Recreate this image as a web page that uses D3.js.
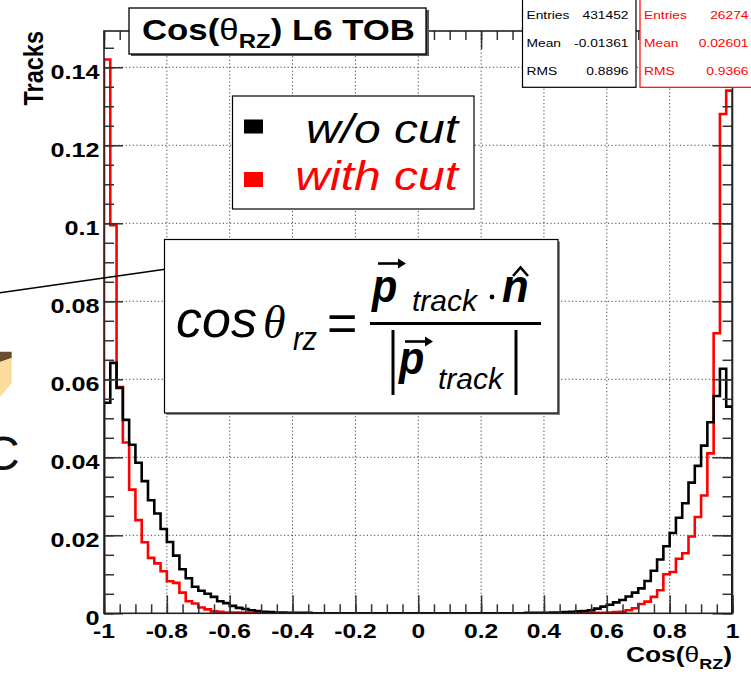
<!DOCTYPE html>
<html>
<head>
<meta charset="utf-8">
<script src="https://cdn.jsdelivr.net/npm/d3@7"></script>
<style>
  html, body { margin: 0; padding: 0; background: #fff; }
  svg { display: block; font-family: "Liberation Sans", Arial, Helvetica, sans-serif; }
</style>
</head>
<body>
<div id="chart"></div>
<script>
// 100 bins of width 0.02 from -1 to 1 (normalised track counts)
const woCut = [
  0.0540, 0.0642, 0.0578, 0.0496, 0.0432, 0.0386, 0.0339, 0.0290, 0.0256, 0.0216,
  0.0183, 0.0148, 0.0113, 0.0090, 0.0068, 0.0058, 0.0050, 0.0042, 0.0031, 0.0026,
  0.0019, 0.0014, 0.0011, 0.0008, 0.0006, 0.0004, 0.0003, 0.0002, 0.0002, 0.0001,
  0.0001, 0.0001, 0.0001, 0, 0, 0, 0, 0, 0, 0,
  0, 0, 0, 0, 0, 0, 0, 0, 0, 0,
  0, 0, 0, 0, 0, 0, 0, 0, 0, 0,
  0, 0, 0, 0, 0, 0, 0, 0.0001, 0.0001, 0.0001,
  0.0001, 0.0002, 0.0002, 0.0003, 0.0004, 0.0005, 0.0006, 0.0008, 0.0012, 0.0017,
  0.0022, 0.0028, 0.0034, 0.0043, 0.0053, 0.0064, 0.0083, 0.0109, 0.0138, 0.0172,
  0.0206, 0.0245, 0.0282, 0.0335, 0.0378, 0.0430, 0.0490, 0.0557, 0.0627, 0.0530
];
const withCut = [
  0.1420, 0.0995, 0.0580, 0.0438, 0.0317, 0.0239, 0.0182, 0.0142, 0.0128, 0.0108,
  0.0082, 0.0078, 0.0053, 0.0031, 0.0025, 0.0015, 0.0010, 0.0005, 0.0004, 0.0002,
  0.0002, 0.0002, 0.0001, 0.0001, 0, 0, 0, 0, 0, 0,
  0, 0, 0, 0, 0, 0, 0, 0, 0, 0,
  0, 0, 0, 0, 0, 0, 0, 0, 0, 0,
  0, 0, 0, 0, 0, 0, 0, 0, 0, 0,
  0, 0, 0, 0, 0, 0, 0, 0, 0, 0,
  0, 0, 0, 0, 0, 0, 0.0001, 0.0001, 0.0001, 0.0001,
  0.0002, 0.0003, 0.0004, 0.0008, 0.0013, 0.0024, 0.0030, 0.0042, 0.0059, 0.0100,
  0.0106, 0.0140, 0.0154, 0.0197, 0.0247, 0.0302, 0.0410, 0.0718, 0.1280, 0.1340
];

const xTicks = [-1, -0.8, -0.6, -0.4, -0.2, 0, 0.2, 0.4, 0.6, 0.8, 1];
const xTickLabels = ['-1', '-0.8', '-0.6', '-0.4', '-0.2', '0', '0.2', '0.4', '0.6', '0.8', '1'];
const yTicks = [0, 0.02, 0.04, 0.06, 0.08, 0.1, 0.12, 0.14];
const yTickLabels = ['0', '0.02', '0.04', '0.06', '0.08', '0.1', '0.12', '0.14'];

const statNames = ['Entries', 'Mean', 'RMS'];
const woCutStats = ['431452', '-0.01361', '0.8896'];
const withCutStats = ['26274', '0.02601', '0.9366'];
const legendLabels = ['w/o cut', 'with cut'];

// Layout
const width = 751, height = 674;
const frame = { left: 104, right: 732.5, top: 31, bottom: 613.3 };
const SX = 1.2; // the picture is stretched sideways, so is the text

const svg = d3.select('#chart').append('svg')
    .attr('width', width)
    .attr('height', height);

svg.append('rect').attr('width', width).attr('height', height).attr('fill', '#fff');

const x = d3.scaleLinear().domain([-1, 1]).range([frame.left, frame.right]);
const y = d3.scaleLinear().domain([0, 0.1493]).range([frame.bottom, frame.top]);

// text helper: stretched text at (px,py)
function txt(parent, px, py, size, opts = {}) {
  return parent.append('text')
    .attr('transform', `translate(${px},${py}) scale(${opts.sx || SX},1)`)
    .attr('text-anchor', opts.anchor || 'start')
    .attr('font-size', size)
    .attr('font-weight', opts.weight || 'normal')
    .attr('font-style', opts.style || 'normal')
    .attr('font-family', opts.family || null)
    .attr('fill', opts.fill || '#000');
}

// Grid
const grid = svg.append('g')
    .attr('stroke', '#444')
    .attr('stroke-width', 1)
    .attr('stroke-dasharray', '1.2,2.4');
grid.selectAll('.gx')
  .data(xTicks.slice(1, -1))
  .enter().append('line')
    .attr('x1', d => x(d)).attr('x2', d => x(d))
    .attr('y1', frame.top).attr('y2', frame.bottom);
grid.selectAll('.gy')
  .data(yTicks.slice(1))
  .enter().append('line')
    .attr('x1', frame.left).attr('x2', frame.right)
    .attr('y1', d => y(d)).attr('y2', d => y(d));

// Histograms
const edges = d3.range(100).map(i => -1 + i * 0.02);
const stepLine = d3.line()
    .x(d => x(d[0]))
    .y(d => y(d[1]))
    .curve(d3.curveStepAfter);

function histPoints(vals) {
  return [[-1, 0]].concat(vals.map((v, i) => [edges[i], v]), [[1, vals[vals.length - 1]], [1, 0]]);
}

svg.append('defs').append('clipPath').attr('id', 'frameClip')
  .append('rect')
    .attr('x', frame.left).attr('y', frame.top)
    .attr('width', frame.right - frame.left).attr('height', frame.bottom - frame.top);

const hists = svg.append('g').attr('clip-path', 'url(#frameClip)');
hists.append('path')
    .attr('d', stepLine(histPoints(withCut)))
    .attr('fill', 'none')
    .attr('stroke', '#ff0000')
    .attr('stroke-width', 2.6);
hists.append('path')
    .attr('d', stepLine(histPoints(woCut)))
    .attr('fill', 'none')
    .attr('stroke', '#000')
    .attr('stroke-width', 2.6);

// Axes ticks (inward, on all four sides)
const xMinor = d3.range(-1, 1.0001, 0.05);
const yMinor = d3.range(0, 0.1451, 0.005);
function tickStyle(g) {
  g.select('.domain').remove();
  g.selectAll('line').attr('stroke', '#333').attr('stroke-width', 1.5);
}
svg.append('g').attr('transform', `translate(0,${frame.bottom})`)
  .call(d3.axisBottom(x).tickValues(xMinor).tickSize(-9).tickFormat('')).call(tickStyle);
svg.append('g').attr('transform', `translate(0,${frame.bottom})`)
  .call(d3.axisBottom(x).tickValues(xTicks).tickSize(-18).tickFormat('')).call(tickStyle);
svg.append('g').attr('transform', `translate(0,${frame.top})`)
  .call(d3.axisTop(x).tickValues(xMinor).tickSize(-9).tickFormat('')).call(tickStyle);
svg.append('g').attr('transform', `translate(0,${frame.top})`)
  .call(d3.axisTop(x).tickValues(xTicks).tickSize(-18).tickFormat('')).call(tickStyle);
svg.append('g').attr('transform', `translate(${frame.left},0)`)
  .call(d3.axisLeft(y).tickValues(yMinor).tickSize(-10).tickFormat('')).call(tickStyle);
svg.append('g').attr('transform', `translate(${frame.left},0)`)
  .call(d3.axisLeft(y).tickValues(yTicks).tickSize(-19).tickFormat('')).call(tickStyle);
svg.append('g').attr('transform', `translate(${frame.right},0)`)
  .call(d3.axisRight(y).tickValues(yMinor).tickSize(-10).tickFormat('')).call(tickStyle);
svg.append('g').attr('transform', `translate(${frame.right},0)`)
  .call(d3.axisRight(y).tickValues(yTicks).tickSize(-20).tickFormat('')).call(tickStyle);

// Frame
svg.append('rect')
    .attr('x', frame.left).attr('y', frame.top)
    .attr('width', frame.right - frame.left).attr('height', frame.bottom - frame.top)
    .attr('fill', 'none').attr('stroke', '#222').attr('stroke-width', 1.6);

// Tick labels
xTicks.forEach((t, i) => {
  txt(svg, x(t), 638, 20.5, { anchor: 'middle', weight: 'bold' }).text(xTickLabels[i]);
});
yTicks.forEach((t, i) => {
  txt(svg, 99.5, y(t) + 11.5, 21, { anchor: 'end', weight: 'bold' }).text(yTickLabels[i]);
});

// Axis titles
svg.append('text')
    .attr('transform', `translate(43,31) scale(${SX},1) rotate(-90)`)
    .attr('text-anchor', 'end')
    .attr('font-size', 23.5)
    .attr('font-weight', 'bold')
    .text('Tracks');
const xt = txt(svg, 732, 662, 22, { anchor: 'end', weight: 'bold' });
xt.append('tspan').text('Cos(');
xt.append('tspan').attr('font-weight', 'normal').text('θ');
xt.append('tspan').attr('font-size', 15).attr('dy', 7).text('RZ');
xt.append('tspan').attr('dy', -7).text(')');

// Legend
const leg = svg.append('g');
leg.append('rect')
    .attr('x', 232.5).attr('y', 96).attr('width', 241.5).attr('height', 113)
    .attr('fill', '#fff').attr('stroke', '#000').attr('stroke-width', 1.2);
[['#000', 119.5, 14], ['#ff0000', 172, 15]].forEach(([c, yy, h], i) => {
  leg.append('rect').attr('x', 244).attr('y', yy).attr('width', 19).attr('height', h).attr('fill', c);
  txt(leg, 458, i === 0 ? 142.5 : 190, 40, { anchor: 'end', style: 'italic', fill: c }).text(legendLabels[i]);
});

// Stray line from the slide
svg.append('line')
    .attr('x1', 0).attr('y1', 292.7).attr('x2', 165).attr('y2', 269.3)
    .attr('stroke', '#000').attr('stroke-width', 1.6);

// Formula box
const fb = svg.append('g');
fb.append('rect').attr('x', 166).attr('y', 241.5).attr('width', 394).attr('height', 173.5).attr('fill', '#888');
fb.append('rect')
    .attr('x', 164.5).attr('y', 239.5).attr('width', 393.5).attr('height', 173.5)
    .attr('fill', '#fff').attr('stroke', '#000').attr('stroke-width', 1.2);
txt(fb, 176, 337, 52, { style: 'italic', sx: 1 }).text('cos');
txt(fb, 263, 338, 46, { style: 'italic', sx: 1, family: '"Liberation Serif", "DejaVu Serif", serif' }).text('θ');
txt(fb, 293, 350, 34, { style: 'italic', sx: 0.85 }).text('rz');
txt(fb, 327, 341, 52, { sx: 1 }).text('=');
fb.append('line').attr('x1', 370).attr('x2', 541).attr('y1', 323.5).attr('y2', 323.5)
    .attr('stroke', '#000').attr('stroke-width', 3);
function arrow(g, x1, x2, yy) {
  g.append('line').attr('x1', x1).attr('x2', x2 - 4).attr('y1', yy).attr('y2', yy)
    .attr('stroke', '#000').attr('stroke-width', 2.6);
  g.append('path').attr('d', `M${x2},${yy} L${x2 - 8},${yy - 5} L${x2 - 8},${yy + 5} Z`).attr('fill', '#000');
}
txt(fb, 372, 302, 46, { style: 'italic', weight: 'bold', sx: 0.9 }).text('p');
arrow(fb, 378, 406, 263.5);
txt(fb, 412, 311, 30, { style: 'italic', sx: 1 }).text('track');
fb.append('circle').attr('cx', 492).attr('cy', 297).attr('r', 2.4).attr('fill', '#000');
txt(fb, 502, 302, 46, { style: 'italic', weight: 'bold', sx: 0.95 }).text('n');
fb.append('path').attr('d', 'M513,276 L520.5,267.5 L528,276')
    .attr('fill', 'none').attr('stroke', '#000').attr('stroke-width', 2.6);
[393, 516].forEach(bx => {
  fb.append('line').attr('x1', bx).attr('x2', bx).attr('y1', 330).attr('y2', 395)
    .attr('stroke', '#000').attr('stroke-width', 3);
});
txt(fb, 399, 374, 46, { style: 'italic', weight: 'bold', sx: 0.9 }).text('p');
arrow(fb, 405, 433, 341.5);
txt(fb, 438, 389, 30, { style: 'italic', sx: 1 }).text('track');

// Title box
const tb = svg.append('g');
tb.append('rect').attr('x', 131).attr('y', 10).attr('width', 298).attr('height', 46).attr('fill', '#555');
tb.append('rect')
    .attr('x', 129).attr('y', 8).attr('width', 297).attr('height', 46)
    .attr('fill', '#fff').attr('stroke', '#000').attr('stroke-width', 1.3);
const tt = txt(tb, 142, 40, 29, { weight: 'bold' });
tt.append('tspan').text('Cos(');
tt.append('tspan').attr('font-weight', 'normal').text('θ');
tt.append('tspan').attr('font-size', 20).attr('dy', 8).text('RZ');
tt.append('tspan').attr('dy', -8).text(') L6 TOB');

// Stats boxes
function statsBox(bx, bw, color, vals, vx) {
  const g = svg.append('g');
  g.append('rect').attr('x', bx).attr('y', -2).attr('width', bw).attr('height', 89.3)
    .attr('fill', '#fff').attr('stroke', color).attr('stroke-width', 1.2);
  statNames.forEach((n, i) => {
    const yy = 18.5 + i * 28.3;
    txt(g, bx + 4, yy, 11.5, { fill: color }).text(n);
    txt(g, vx, yy, 11.5, { anchor: 'end', fill: color }).text(vals[i]);
  });
}
statsBox(522.5, 113.5, '#000', woCutStats, 628.5);
statsBox(640, 120, '#ff0000', withCutStats, 748.5);

// Fragments of the slide on the left edge
svg.append('path').attr('d', 'M0,351.7 L11.7,351.7 L11.7,358 L0,362 Z').attr('fill', '#6b4e2e');
svg.append('path').attr('d', 'M0,362 L11.7,358 L11.7,383 L0,397 Z').attr('fill', '#fcdc9c');
svg.append('text').attr('x', -15).attr('y', 470).attr('font-size', 48).attr('fill', '#111').text('C');
</script>
</body>
</html>
